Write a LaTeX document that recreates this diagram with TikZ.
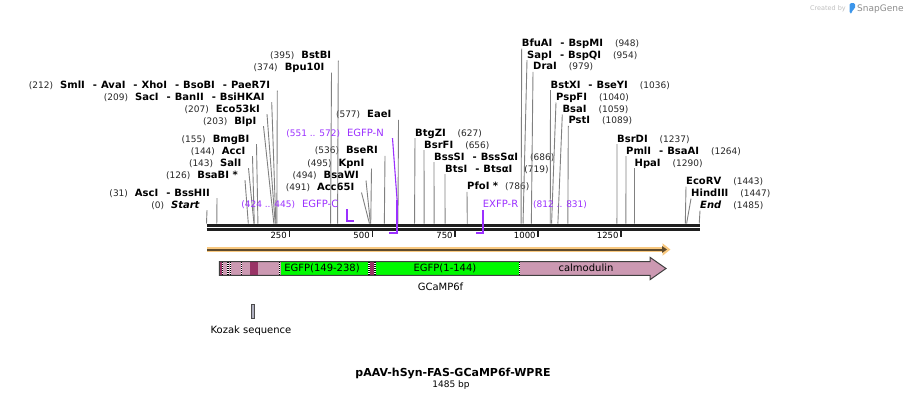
\documentclass[tikz,border=0pt]{standalone}
\usepackage{fontspec}
\setmainfont{DejaVu Sans}[ItalicFont={DejaVu Sans Oblique},BoldItalicFont={DejaVu Sans Bold Oblique}]
\usetikzlibrary{arrows.meta}

\definecolor{cutgray}{RGB}{128,128,128}
\definecolor{primerviolet}{RGB}{155,48,255}
\definecolor{orfpink}{RGB}{204,153,178}
\definecolor{orfdark}{RGB}{153,51,102}
\definecolor{egfpgreen}{RGB}{0,250,0}
\definecolor{orfband}{RGB}{249,201,128}
\definecolor{orfline}{RGB}{95,75,45}
\definecolor{kozakfill}{RGB}{176,176,192}
\definecolor{snapblue}{RGB}{60,150,235}

\newcommand{\enzfont}{\fontsize{10}{12}\selectfont\bfseries}
\newcommand{\bpnum}[1]{{\fontsize{9}{11}\selectfont\mdseries\color{black!85}(#1)}}
\newcommand{\esep}{\hspace{8pt}-\hspace{4pt}}

\tikzset{
  declare function={bpx(\n)=206.5+0.3318*\n;},
  leftcut/.style={anchor=base east, inner xsep=7pt, inner ysep=0pt, text height=7.5pt, text depth=2pt, font=\enzfont},
  rightcut/.style={anchor=base west, inner xsep=0pt, inner ysep=0pt, text height=7.5pt, text depth=2pt, font=\enzfont},
  cutline/.style={draw=cutgray, line width=0.9pt},
  featlabel/.style={inner ysep=0pt, text height=7.5pt, text depth=2pt, text=primerviolet, font=\fontsize{10}{12}\selectfont},
  primer/.style={draw=primerviolet, line width=1.8pt},
  seam/.style={draw=white, line width=1.1pt, postaction={draw=black, dash pattern=on 1pt off 1pt}},
  segtext/.style={anchor=base, inner sep=0pt, font=\fontsize{10}{12}\selectfont}
}

\begin{document}
\begin{tikzpicture}[x=1pt, y=-1pt]
  \useasboundingbox (0,0) rectangle (908,400);

  % Backbone
  \draw[line width=3pt, black!88] (206.5,225) -- (699.5,225);
  \draw[line width=2.4pt, black!88] (206.5,229.5) -- (699.5,229.5);

  % Scale ticks
  \foreach \t in {250,500,750,1000,1250}{
    \draw[line width=1.8pt, black!88] ({bpx(\t)},230.5) -- ({bpx(\t)},236.8);
    \node[anchor=base east, inner sep=0pt, font=\fontsize{8.5}{10}\selectfont] (tick\t) at ({bpx(\t)-2.5},238.7) {\t};
  }

  % Cut sites on the backbone
  \foreach \s in {0,31,126,143,144,155,203,207,209,212,374,395,491,494,495,536,577,
                  627,656,686,719,786,948,954,979,1036,1040,1059,1089,1237,1264,1290,1443,1447,1485}
    \coordinate (cut\s) at ({bpx(\s)},223.5);

  % Enzymes, left side
  \node[leftcut] (smlI) at (277.3,88.3) {\bpnum{212}\hspace{7pt}SmlI\esep AvaI\esep XhoI\esep BsoBI\esep PaeR7I};
  \node[leftcut] (sacI) at (271.7,100) {\bpnum{209}\hspace{7pt}SacI\esep BanII\esep BsiHKAI};
  \node[leftcut] (eco53kI) at (267,112) {\bpnum{207}\hspace{7pt}Eco53kI};
  \node[leftcut] (blpI) at (263.5,124) {\bpnum{203}\hspace{7pt}BlpI};
  \node[leftcut] (bmgBI) at (256.5,142) {\bpnum{155}\hspace{7pt}BmgBI};
  \node[leftcut] (accI) at (252.5,154) {\bpnum{144}\hspace{7pt}AccI};
  \node[leftcut] (salI) at (248.5,166) {\bpnum{143}\hspace{7pt}SalI};
  \node[leftcut] (bsaBI) at (245,178) {\bpnum{126}\hspace{7pt}BsaBI *};
  \node[leftcut] (ascI) at (217,196) {\bpnum{31}\hspace{7pt}AscI\esep BssHII};
  \node[leftcut] (start) at (207,208) {\bpnum{0}\hspace{7pt}\textit{Start}};
  \node[leftcut] (bstBI) at (338.3,58.3) {\bpnum{395}\hspace{7pt}BstBI};
  \node[leftcut] (bpu10I) at (331.5,70.3) {\bpnum{374}\hspace{7pt}Bpu10I};
  \node[leftcut] (eaeI) at (398.5,117.7) {\bpnum{577}\hspace{7pt}EaeI};
  \node[leftcut] (bseRI) at (385,153.7) {\bpnum{536}\hspace{7pt}BseRI};
  \node[leftcut] (kpnI) at (371.5,166.3) {\bpnum{495}\hspace{7pt}KpnI};
  \node[leftcut] (bsaWI) at (366,178.3) {\bpnum{494}\hspace{7pt}BsaWI};
  \node[leftcut] (acc65I) at (361.5,190.3) {\bpnum{491}\hspace{7pt}Acc65I};

  \foreach \n/\s in {smlI/212, sacI/209, eco53kI/207, blpI/203, bmgBI/155, accI/144, salI/143,
                     bsaBI/126, ascI/31, start/0, bstBI/395, bpu10I/374, eaeI/577, bseRI/536,
                     kpnI/495, bsaWI/494, acc65I/491}
    \draw[cutline] (\n.south east) -- (cut\s);

  % Enzymes, right side
  \node[rightcut] (bfuAI) at (521.7,46.3) {BfuAI\esep BspMI\hspace{12pt}\bpnum{948}};
  \node[rightcut] (sapI) at (527,58) {SapI\esep BspQI\hspace{12pt}\bpnum{954}};
  \node[rightcut] (draI) at (533,69.7) {DraI\hspace{12pt}\bpnum{979}};
  \node[rightcut] (bstXI) at (550.5,88) {BstXI\esep BseYI\hspace{12pt}\bpnum{1036}};
  \node[rightcut] (pspFI) at (556,100.3) {PspFI\hspace{12pt}\bpnum{1040}};
  \node[rightcut] (bsaI) at (562.3,112.3) {BsaI\hspace{12pt}\bpnum{1059}};
  \node[rightcut] (pstI) at (568.3,123.7) {PstI\hspace{12pt}\bpnum{1089}};
  \node[rightcut] (btgZI) at (415,136) {BtgZI\hspace{12pt}\bpnum{627}};
  \node[rightcut] (bsrFI) at (424,148) {BsrFI\hspace{12pt}\bpnum{656}};
  \node[rightcut] (bssSI) at (434,160) {BssSI\esep BssSαI\hspace{12pt}\bpnum{686}};
  \node[rightcut] (btsI) at (445,172) {BtsI\esep BtsαI\hspace{12pt}\bpnum{719}};
  \node[rightcut] (pfoI) at (467,189.7) {PfoI *\hspace{7pt}\bpnum{786}};
  \node[rightcut] (bsrDI) at (617,142) {BsrDI\hspace{12pt}\bpnum{1237}};
  \node[rightcut] (pmlI) at (626,154) {PmlI\esep BsaAI\hspace{12pt}\bpnum{1264}};
  \node[rightcut] (hpaI) at (634.5,166) {HpaI\hspace{12pt}\bpnum{1290}};
  \node[rightcut] (ecoRV) at (686,184.5) {EcoRV\hspace{12pt}\bpnum{1443}};
  \node[rightcut] (hindIII) at (691,196.5) {HindIII\hspace{12pt}\bpnum{1447}};
  \node[rightcut] (endsite) at (700,208.5) {\textit{End}\hspace{12pt}\bpnum{1485}};

  \foreach \n/\s in {bfuAI/948, sapI/954, draI/979, bstXI/1036, pspFI/1040, bsaI/1059, pstI/1089,
                     btgZI/627, bsrFI/656, bssSI/686, btsI/719, pfoI/786, bsrDI/1237, pmlI/1264,
                     hpaI/1290, ecoRV/1443, hindIII/1447, endsite/1485}
    \draw[cutline] (\n.south west) -- (cut\s);

  % Primers
  \node[featlabel, anchor=base east, inner xsep=0pt] (egfpC) at (338.5,207.7) {{\fontsize{9}{11}\selectfont(424 .. 445)}\hspace{7pt}EGFP-C};
  \coordinate (pC1) at ({bpx(424)},209);
  \coordinate (pC2) at ({bpx(445)},221);
  \draw[primer] (pC1) |- (pC2);

  \node[featlabel, anchor=base east, inner xsep=8.5pt] (egfpN) at (392.5,136) {{\fontsize{9}{11}\selectfont(551 .. 572)}\hspace{7pt}EGFP-N};
  \coordinate (pN1) at ({bpx(572)+0.8},200);
  \coordinate (pN2) at ({bpx(551)},233);
  \draw[primer, line width=1.1pt] (egfpN.south east) -- (pN1);
  \draw[primer] (pN1) |- (pN2);

  \node[featlabel, anchor=base west, inner xsep=0pt] (exfpR) at (482.7,207.7) {EXFP-R\hspace{15pt}{\fontsize{9}{11}\selectfont(812 .. 831)}};
  \coordinate (pR) at ({bpx(812)},233);
  \draw[primer] (exfpR.south west) |- (pR);

  % ORF arrow
  \draw[orfband, line width=5.6pt, -{Triangle[length=8pt,width=12pt]}] (207,249.5) -- (670.5,249.5);
  \draw[orfline, line width=2pt, -{Triangle[length=5pt,width=6.5pt]}] (207,249.5) -- (667,249.5);

  % GCaMP6f feature
  \fill[orfdark] (219.3,261.7) rectangle (222.3,275.3);
  \fill[orfpink] (222.3,261.7) rectangle (250,275.3);
  \fill[orfdark] (250,261.7) rectangle (258.3,275.3);
  \fill[orfpink] (258.3,261.7) rectangle (280.7,275.3);
  \fill[egfpgreen] (280.7,261.7) rectangle (368.5,275.3);
  \fill[orfdark] (368.5,261.7) rectangle (375.5,275.3);
  \fill[egfpgreen] (375.5,261.7) rectangle (519.5,275.3);
  \fill[orfpink] (519.5,261.7) -- (650,261.7) -- (650,257.3) -- (666,268.5) -- (650,279.7)
    -- (650,275.3) -- (519.5,275.3) -- cycle;
  \foreach \x in {222.3,228,230.3,241.7,279.7,369,375,519.5}
    \draw[seam] (\x,262.2) -- (\x,274.8);
  \draw[black!75, line width=1pt] (219.3,261.7) -- (650,261.7) -- (650,257.3) -- (666,268.5)
    -- (650,279.7) -- (650,275.3) -- (219.3,275.3) -- cycle;

  \node[segtext] (egfpB) at (322,271.3) {EGFP(149-238)};
  \node[segtext] (egfpA) at (445,271.3) {EGFP(1-144)};
  \node[segtext] (calm) at (586,271.3) {calmodulin};
  \node[segtext] (gcamp) at (440.5,290.8) {GCaMP6f};

  % Kozak sequence
  \draw[fill=kozakfill, draw=black!70, line width=0.8pt] ({bpx(134)},304) rectangle ({bpx(143)},318);
  \node[segtext] (kozak) at (251,333.6) {Kozak sequence};

  % Title
  \node[anchor=base, inner sep=0pt, font=\fontsize{11}{13}\selectfont\bfseries] (title) at (453,376) {pAAV-hSyn-FAS-GCaMP6f-WPRE};
  \node[anchor=base, inner sep=0pt, font=\fontsize{9}{11}\selectfont] (length) at (451,387.6) {1485 bp};

  % Watermark
  \node[anchor=base east, inner sep=0pt, text=black!25, font=\fontsize{6.5}{8}\selectfont] (created) at (846,10.5) {Created by};
  \fill[snapblue, rounded corners=1.5pt] (849.5,3) -- (855,3) -- (855,9) -- (852,10) -- (852,13.5) -- (849.5,13.5) -- cycle;
  \node[anchor=base west, inner sep=0pt, text=black!45, font=\fontsize{9}{11}\selectfont] (snapgene) at (857,11.5) {SnapGene};
\end{tikzpicture}
\end{document}
